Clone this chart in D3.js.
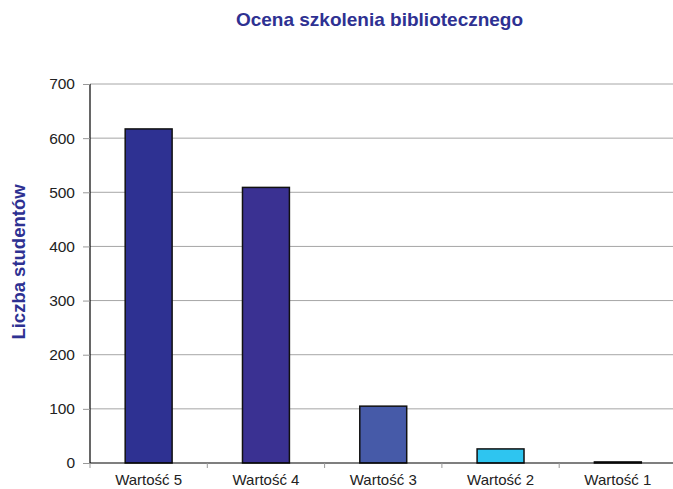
<!DOCTYPE html>
<html>
<head>
<meta charset="utf-8">
<script src="https://cdn.jsdelivr.net/npm/d3@7"></script>
<style>
  html, body { margin: 0; padding: 0; background: #fff; }
  svg { display: block; font-family: Arial, "Liberation Sans", sans-serif; overflow: hidden; }
</style>
</head>
<body>
<div id="chart"></div>
<script>
const categories = ['Wartość 5', 'Wartość 4', 'Wartość 3', 'Wartość 2', 'Wartość 1'];
const values = [617, 509, 105, 26, 2];
const barColors = ['#2e3192', '#3a3192', '#465aa8', '#2ec5f0', '#3a3a6a'];
const yTicks = [0, 100, 200, 300, 400, 500, 600, 700];

const width = 673, height = 489;
const plotLeft = 90, plotRight = 676.5, plotTop = 84, plotBottom = 463;

const svg = d3.select('#chart').append('svg')
    .attr('width', width)
    .attr('height', height);

let x = d3.scaleBand().domain(categories).range([plotLeft, plotRight]).padding(0);
let y = d3.scaleLinear().domain([0, 700]).range([plotBottom, plotTop]);

// Title.
svg.append('text')
    .attr('x', 379.5)
    .attr('y', 26)
    .attr('text-anchor', 'middle')
    .attr('fill', '#2e3192')
    .style('font-size', '19px')
    .style('font-weight', 'bold')
    .text('Ocena szkolenia bibliotecznego');

// Y axis label.
svg.append('text')
    .attr('transform', 'translate(25,' + 262 + ') rotate(-90)')
    .attr('text-anchor', 'middle')
    .attr('fill', '#2e3192')
    .style('font-size', '18.5px')
    .style('font-weight', 'bold')
    .text('Liczba studentów');

// Gridlines.
svg.append('g')
    .selectAll('line')
    .data(yTicks.filter(d => d > 0))
    .enter().append('line')
    .attr('x1', plotLeft)
    .attr('x2', width)
    .attr('y1', d => y(d))
    .attr('y2', d => y(d))
    .attr('stroke', '#a6a6a6')
    .attr('stroke-width', 1);

// Y axis.
let yAxis = svg.append('g')
    .attr('transform', 'translate(' + plotLeft + ',0)')
    .call(d3.axisLeft(y).tickValues(yTicks).tickSize(7).tickPadding(8));
yAxis.select('.domain').attr('stroke', '#000').attr('stroke-width', 1.2).attr('d', 'M0,' + plotTop + 'V' + plotBottom);
yAxis.selectAll('.tick line').attr('stroke', '#999');
yAxis.selectAll('.tick text')
    .attr('fill', '#222')
    .style('font-size', '15.5px')
    .style('font-family', 'Arial, "Liberation Sans", sans-serif');

// Bars.
let barW = x.bandwidth() * 0.4;
svg.append('g')
    .selectAll('rect')
    .data(values)
    .enter().append('rect')
    .attr('x', (d, i) => x(categories[i]) + (x.bandwidth() - barW) / 2)
    .attr('y', d => y(d))
    .attr('width', barW)
    .attr('height', d => plotBottom - y(d))
    .attr('fill', (d, i) => barColors[i])
    .attr('stroke', '#111')
    .attr('stroke-width', 1.5);

// X axis.
let xTickPos = categories.map(c => x(c));
let xAxis = svg.append('g');
xAxis.append('line')
    .attr('x1', plotLeft)
    .attr('x2', width)
    .attr('y1', plotBottom)
    .attr('y2', plotBottom)
    .attr('stroke', '#000')
    .attr('stroke-width', 1.2);
xAxis.selectAll('.xtick')
    .data(xTickPos)
    .enter().append('line')
    .attr('class', 'xtick')
    .attr('x1', d => d)
    .attr('x2', d => d)
    .attr('y1', plotBottom)
    .attr('y2', plotBottom + 5)
    .attr('stroke', '#999');
xAxis.selectAll('.xlabel')
    .data(categories)
    .enter().append('text')
    .attr('class', 'xlabel')
    .attr('x', d => x(d) + x.bandwidth() / 2)
    .attr('y', 485)
    .attr('text-anchor', 'middle')
    .attr('fill', '#222')
    .style('font-size', '15px')
    .text(d => d);
</script>
</body>
</html>
